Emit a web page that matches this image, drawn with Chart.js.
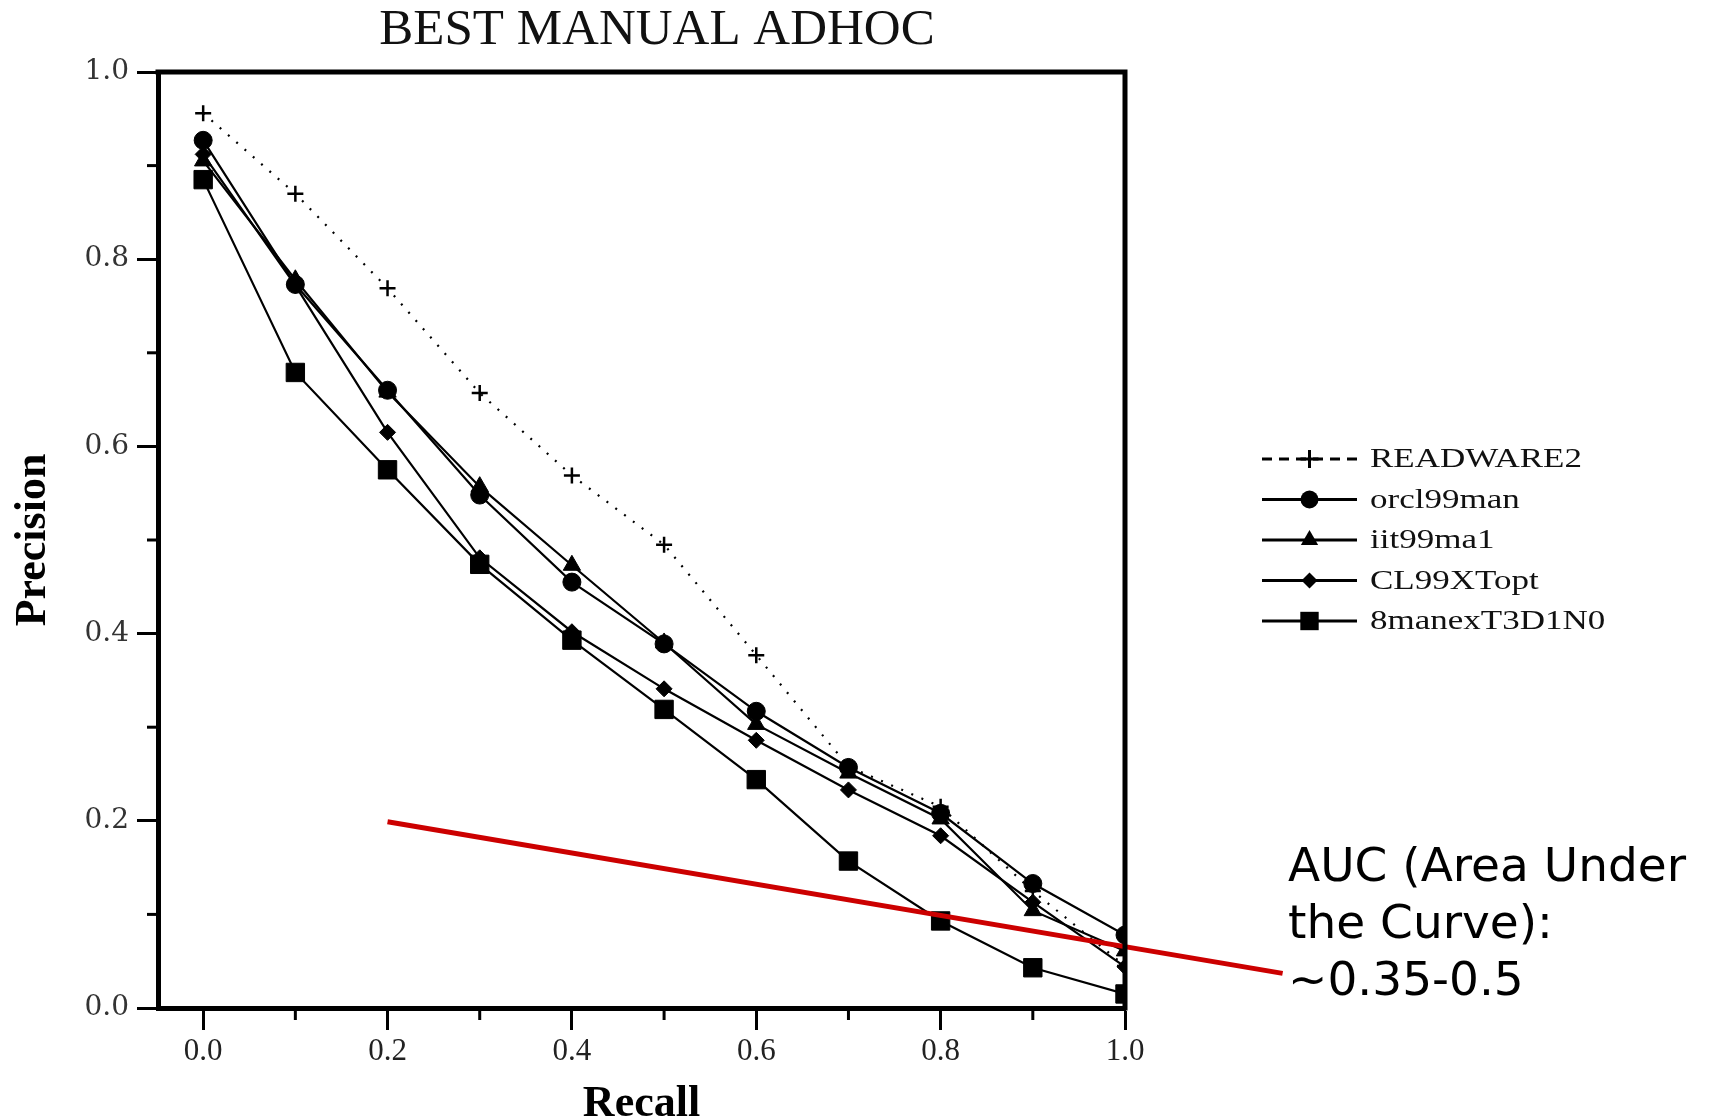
<!DOCTYPE html>
<html>
<head>
<meta charset="utf-8">
<script src="https://cdn.jsdelivr.net/npm/chart.js@4/dist/chart.umd.min.js"></script>
<style>
html,body{margin:0;padding:0;background:#fff;}
#wrap{width:1714px;height:1119px;position:relative;}
</style>
</head>
<body>
<div id="wrap"><canvas id="c" width="1714" height="1119"></canvas></div>
<script>
// ---- data ----
const chartTitle = 'BEST MANUAL ADHOC';
const xTitle = 'Recall';
const yTitle = 'Precision';
const recall = [0.0, 0.1, 0.2, 0.3, 0.4, 0.5, 0.6, 0.7, 0.8, 0.9, 1.0];
const seriesNames = ['READWARE2', 'orcl99man', 'iit99ma1', 'CL99XTopt', '8manexT3D1N0'];
const readware2 = [0.956, 0.870, 0.769, 0.657, 0.569, 0.495, 0.377, 0.258, 0.215, 0.125, 0.045];
const orcl99man = [0.927, 0.773, 0.660, 0.548, 0.455, 0.389, 0.317, 0.257, 0.208, 0.133, 0.078];
const iit99ma1  = [0.905, 0.778, 0.658, 0.557, 0.473, 0.390, 0.303, 0.251, 0.202, 0.104, 0.061];
const cl99xtopt = [0.912, 0.772, 0.615, 0.481, 0.402, 0.341, 0.286, 0.233, 0.184, 0.113, 0.044];
const manex     = [0.885, 0.679, 0.575, 0.474, 0.393, 0.319, 0.244, 0.157, 0.093, 0.043, 0.015];
const xTicks = [0.0, 0.1, 0.2, 0.3, 0.4, 0.5, 0.6, 0.7, 0.8, 0.9, 1.0];
const yTicks = [0.0, 0.1, 0.2, 0.3, 0.4, 0.5, 0.6, 0.7, 0.8, 0.9, 1.0];
const xRange = [-0.049, 1.0];
const yRange = [0.0, 1.0];
const aucLineX = [0.2, 1.171];
const aucLineY = [0.199, 0.037];
const aucText = ['AUC (Area Under', 'the Curve):', '~0.35-0.5'];

// ---- build ----
function pts(ys){ return recall.map((x,i)=>({x:x, y:ys[i]})); }
const seriesValues = [readware2, orcl99man, iit99ma1, cl99xtopt, manex];
const styles = [
  {pointStyle:'cross', pointRadius:8, pointBorderWidth:2.5, borderDash:[2,9], borderWidth:2.2},
  {pointStyle:'circle', pointRadius:9, pointBorderWidth:1, borderDash:[], borderWidth:2.2},
  {pointStyle:'triangle', pointRadius:10, pointBorderWidth:1, borderDash:[], borderWidth:2.2},
  {pointStyle:'rectRot', pointRadius:8, pointBorderWidth:1, borderDash:[], borderWidth:2.2},
  {pointStyle:'rect', pointRadius:13, pointBorderWidth:1, borderDash:[], borderWidth:2.2}
];
const datasets = [{
  label:'AUC', data: aucLineX.map((x,i)=>({x:x,y:aucLineY[i]})),
  borderColor:'#cc0000', borderWidth:5, pointRadius:0, clip:false, order:-1,
  borderCapStyle:'butt'
}];
seriesNames.forEach((n,i)=>{
  datasets.push(Object.assign({
    label:n, data:pts(seriesValues[i]), borderColor:'#000', backgroundColor:'#000',
    pointBackgroundColor:'#000', pointBorderColor:'#000', tension:0, order:i
  }, styles[i]));
});

function drawMarker(ctx, style, r, x, y){
  ctx.save();
  ctx.fillStyle='#000'; ctx.strokeStyle='#000'; ctx.lineWidth=3; ctx.setLineDash([]);
  ctx.beginPath();
  if(style==='circle'){ ctx.arc(x,y,r,0,Math.PI*2); ctx.fill(); }
  else if(style==='triangle'){
    for(let k=0;k<3;k++){ const a=k*2*Math.PI/3; const px=x+Math.sin(a)*r, py=y-Math.cos(a)*r; k?ctx.lineTo(px,py):ctx.moveTo(px,py);} ctx.closePath(); ctx.fill();
  } else if(style==='rectRot'){
    ctx.moveTo(x,y-r); ctx.lineTo(x+r,y); ctx.lineTo(x,y+r); ctx.lineTo(x-r,y); ctx.closePath(); ctx.fill();
  } else if(style==='rect'){
    const s=r*Math.SQRT1_2; ctx.rect(x-s,y-s,2*s,2*s); ctx.fill();
  } else if(style==='cross'){
    ctx.moveTo(x-r,y); ctx.lineTo(x+r,y); ctx.moveTo(x,y-r); ctx.lineTo(x,y+r); ctx.stroke();
  }
  ctx.restore();
}

const decor = {
  id:'decor',
  afterDraw(chart){
    const ctx = chart.ctx, a = chart.chartArea;
    const xs = chart.scales.x, ys = chart.scales.y;
    ctx.save();
    // frame (top & right)
    ctx.strokeStyle='#000'; ctx.lineWidth=5; ctx.lineCap='square';
    ctx.beginPath();
    ctx.moveTo(a.left, a.top); ctx.lineTo(a.right, a.top); ctx.lineTo(a.right, a.bottom);
    ctx.stroke();
    // minor ticks
    ctx.lineWidth=3; ctx.lineCap='butt';
    xTicks.forEach((v,i)=>{ if(i%2===1){ const px=xs.getPixelForValue(v); ctx.beginPath(); ctx.moveTo(px,a.bottom); ctx.lineTo(px,a.bottom+12); ctx.stroke(); }});
    yTicks.forEach((v,i)=>{ if(i%2===1){ const py=ys.getPixelForValue(v); ctx.beginPath(); ctx.moveTo(a.left,py); ctx.lineTo(a.left-11,py); ctx.stroke(); }});
    // chart title
    ctx.fillStyle='#111';
    ctx.font='51px "Liberation Serif"';
    ctx.textAlign='center'; ctx.textBaseline='alphabetic';
    ctx.fillText(chartTitle, 657, 44);
    // legend
    const ly0 = 459, ldy = 40.5, lx0 = 1262, lx1 = 1357, tx = 1370;
    seriesNames.forEach((n,i)=>{
      const y = ly0 + i*ldy;
      ctx.save();
      ctx.strokeStyle='#000'; ctx.lineWidth=3;
      ctx.setLineDash(i===0?[10,7]:[]);
      ctx.beginPath(); ctx.moveTo(lx0,y); ctx.lineTo(lx1,y); ctx.stroke();
      ctx.restore();
      const st = styles[i];
      const r = st.pointStyle==='cross'?9:(st.pointStyle==='rect'?13:(st.pointStyle==='triangle'?10:(st.pointStyle==='rectRot'?8:9)));
      drawMarker(ctx, st.pointStyle, r, (lx0+lx1)/2, y);
      ctx.save();
      ctx.translate(tx, y);
      ctx.scale(1.25, 1);
      ctx.fillStyle='#111';
      ctx.font='28px "Liberation Serif"';
      ctx.textAlign='left'; ctx.textBaseline='middle';
      ctx.fillText(n, 0, 1);
      ctx.restore();
    });
    // AUC annotation text
    ctx.fillStyle='#000';
    ctx.font='47px "DejaVu Sans"';
    ctx.textAlign='left'; ctx.textBaseline='alphabetic';
    aucText.forEach((t,i)=> ctx.fillText(t, 1288, 881 + i*57));
    ctx.restore();
  }
};

new Chart(document.getElementById('c'), {
  type:'line',
  data:{datasets:datasets},
  options:{
    responsive:false, animation:false, devicePixelRatio:1,
    layout:{padding:{left:0, top:72, right:589, bottom:0}},
    plugins:{legend:{display:false}, tooltip:{enabled:false}, title:{display:false}},
    scales:{
      x:{
        type:'linear', min:xRange[0], max:xRange[1],
        afterBuildTicks(s){ s.ticks = xTicks.map(v=>({value:v})); },
        afterFit(s){ s.height = 111; },
        ticks:{ autoSkip:false, maxRotation:0, padding:3, color:'#222',
          font:{family:'Liberation Serif', size:31},
          callback(v, i){ return i%2===0 ? Number(v).toFixed(1) : ''; } },
        grid:{ display:true, drawOnChartArea:false, drawTicks:true, tickLength:22, tickWidth:3,
          tickColor:(c)=> (c.index%2===0 ? '#000' : 'rgba(0,0,0,0)') },
        border:{ display:true, color:'#000', width:5 },
        title:{ display:true, text:xTitle, color:'#000', padding:{top:0,bottom:1},
          font:{family:'Liberation Serif', size:44, weight:'bold', lineHeight:0.6} }
      },
      y:{
        type:'linear', min:yRange[0], max:yRange[1],
        afterBuildTicks(s){ s.ticks = yTicks.map(v=>({value:v})); },
        afterFit(s){ s.width = 158; },
        ticks:{ autoSkip:false, padding:8, color:'#333',
          font:{family:'DejaVu Serif', size:28},
          callback(v, i){ return i%2===0 ? Number(v).toFixed(1) : ''; } },
        grid:{ display:true, drawOnChartArea:false, drawTicks:true, tickLength:21, tickWidth:3,
          tickColor:(c)=> (c.index%2===0 ? '#000' : 'rgba(0,0,0,0)') },
        border:{ display:true, color:'#000', width:5 },
        title:{ display:true, text:yTitle, color:'#000', padding:{top:12,bottom:0},
          font:{family:'Liberation Serif', size:44, weight:'bold', lineHeight:1.0} }
      }
    }
  },
  plugins:[decor]
});
</script>
</body>
</html>
